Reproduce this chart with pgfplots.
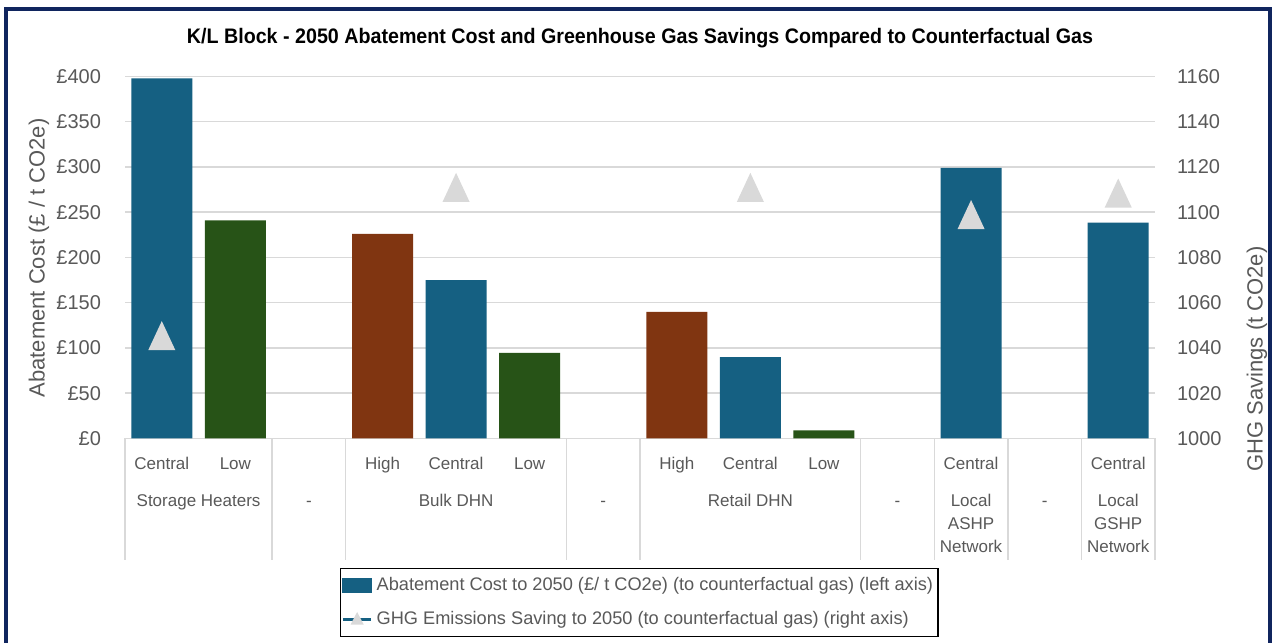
\documentclass[border=0pt]{standalone}
\usepackage{fontspec}
\setmainfont{Liberation Sans}
\usepackage{graphicx}
\usepackage{pgfplots}
\pgfplotsset{compat=1.18}
\usetikzlibrary{plotmarks}
\definecolor{cblue}{RGB}{21,96,130}
\definecolor{cgreen}{RGB}{39,83,23}
\definecolor{cbrown}{RGB}{128,53,17}
\definecolor{ctri}{RGB}{217,217,217}
\definecolor{cgrid}{RGB}{217,217,217}
\definecolor{ctext}{RGB}{89,89,89}
\definecolor{cframe}{RGB}{16,37,94}
\pgfdeclareplotmark{xltri}{%
  \pgfpathmoveto{\pgfpoint{0pt}{7.25pt}}%
  \pgfpathlineto{\pgfpoint{6.75pt}{-7.25pt}}%
  \pgfpathlineto{\pgfpoint{-6.75pt}{-7.25pt}}%
  \pgfpathclose\pgfusepathqfill}
\tikzset{
  lvla/.style={anchor=base, font=\fontsize{8.5}{10}\selectfont, text=ctext, yshift=-15.75pt},
  lvlb/.style={anchor=base, font=\fontsize{8.5}{10}\selectfont, text=ctext, yshift=-34.25pt},
  lvlc/.style={anchor=base, font=\fontsize{8.5}{10}\selectfont, text=ctext, yshift=-45.75pt},
  lvld/.style={anchor=base, font=\fontsize{8.5}{10}\selectfont, text=ctext, yshift=-57.25pt},
  sep/.style={draw=cgrid, line width=0.75pt}
}
\begin{document}
\begin{tikzpicture}
\path[use as bounding box, fill=white] (0,0) rectangle (636.5pt,321pt);
\begin{axis}[
  at={(62.5pt,101.75pt)}, anchor=south west, scale only axis,
  width=515pt, height=181pt,
  xmin=-0.5, xmax=13.5, ymin=0, ymax=400,
  ytick={0,50,100,150,200,250,300,350,400},
  yticklabels={£0,£50,£100,£150,£200,£250,£300,£350,£400},
  xtick=\empty,
  ymajorgrids, grid style={cgrid, line width=0.75pt},
  axis line style={draw=none}, major tick length=0pt,
  yticklabel style={font=\fontsize{10}{12}\selectfont, text=ctext, xshift=-8.5pt},
  clip=false
]
\addplot[ybar, bar width=30.5pt, bar shift=0pt, fill=cblue, draw=none]
  coordinates {(0,398) (4,175) (8,90) (11,299) (13,238.5)};
\addplot[ybar, bar width=30.5pt, bar shift=0pt, fill=cgreen, draw=none]
  coordinates {(1,241) (5,94.5) (9,9)};
\addplot[ybar, bar width=30.5pt, bar shift=0pt, fill=cbrown, draw=none]
  coordinates {(3,226) (7,140)};
% separators
\foreach \s in {-0.5,1.5,2.5,5.5,6.5,9.5,10.5,11.5,12.5,13.5}{
  \edef\tmp{\noexpand\draw[sep] (axis cs:\s,0) -- ++(0pt,-60.75pt);}\tmp
}
% level 1
\node[lvla] at (axis cs:0,0) {Central};
\node[lvla] at (axis cs:1,0) {Low};
\node[lvla] at (axis cs:3,0) {High};
\node[lvla] at (axis cs:4,0) {Central};
\node[lvla] at (axis cs:5,0) {Low};
\node[lvla] at (axis cs:7,0) {High};
\node[lvla] at (axis cs:8,0) {Central};
\node[lvla] at (axis cs:9,0) {Low};
\node[lvla] at (axis cs:11,0) {Central};
\node[lvla] at (axis cs:13,0) {Central};
% level 2
\node[lvlb] at (axis cs:0.5,0) {Storage Heaters};
\node[lvlb] at (axis cs:2,0) {-};
\node[lvlb] at (axis cs:4,0) {Bulk DHN};
\node[lvlb] at (axis cs:6,0) {-};
\node[lvlb] at (axis cs:8,0) {Retail DHN};
\node[lvlb] at (axis cs:10,0) {-};
\node[lvlb] at (axis cs:11,0) {Local};
\node[lvlc] at (axis cs:11,0) {ASHP};
\node[lvld] at (axis cs:11,0) {Network};
\node[lvlb] at (axis cs:12,0) {-};
\node[lvlb] at (axis cs:13,0) {Local};
\node[lvlc] at (axis cs:13,0) {GSHP};
\node[lvld] at (axis cs:13,0) {Network};
\end{axis}
\begin{axis}[
  at={(62.5pt,101.75pt)}, anchor=south west, scale only axis,
  width=515pt, height=181pt,
  xmin=-0.5, xmax=13.5, ymin=1000, ymax=1160,
  ytick={1000,1020,1040,1060,1080,1100,1120,1140,1160},
  yticklabels={1000,1020,1040,1060,1080,1100,1120,1140,1160},
  yticklabel pos=right,
  xtick=\empty,
  axis line style={draw=none}, major tick length=0pt,
  yticklabel style={font=\fontsize{10}{12}\selectfont, text=ctext, xshift=7.5pt},
  clip=false,
  legend cell align=left,
  legend style={at={(0.2087,-0.3564)}, anchor=north west, draw=black, line width=0.7pt,
    font=\fontsize{9.1}{11}\selectfont, text=ctext, inner xsep=0.5pt, inner ysep=2.5pt,
    row sep=5pt, /tikz/every even column/.append style={column sep=0pt}}
]
\addlegendimage{legend image code/.code={\fill[cblue] (0pt,-3.5pt) rectangle (14pt,3.5pt);}}
\addlegendentry{Abatement Cost to 2050 (£/ t CO2e) (to counterfactual gas) (left axis)}
\addlegendimage{legend image code/.code={\draw[cblue, line width=1.5pt] (0pt,0pt) -- (14pt,0pt); \fill[ctri] (7pt,3pt) -- (9.7pt,-2.2pt) -- (4.3pt,-2.2pt) -- cycle;}}
\addlegendentry{GHG Emissions Saving to 2050 (to counterfactual gas) (right axis)}
\addplot[only marks, mark=xltri, color=ctri, forget plot]
  coordinates {(0,1045.5) (4,1111) (8,1111) (11,1099) (13,1108.5)};
\end{axis}
\node[anchor=base] at (320pt,299.25pt) {\resizebox{453pt}{\height}{\fontsize{10.5}{12}\selectfont\bfseries K/L Block - 2050 Abatement Cost and Greenhouse Gas Savings Compared to Counterfactual Gas}};
\node[rotate=90, text=ctext, font=\fontsize{11}{13}\selectfont] at (19.5pt,192pt) {Abatement Cost (£ / t CO2e)};
\node[rotate=90, text=ctext, font=\fontsize{11}{13}\selectfont] at (628.5pt,141.5pt) {GHG Savings (t CO2e)};
\draw[cframe, line width=2pt] (3pt,-10pt) rectangle (634.75pt,316.25pt);
\end{tikzpicture}
\end{document}
